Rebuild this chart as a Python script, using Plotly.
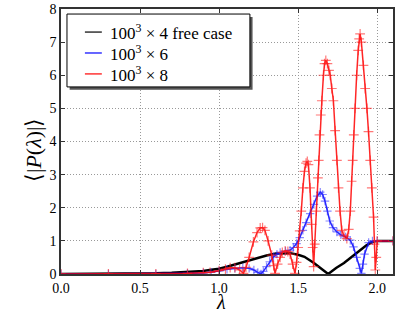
import plotly.graph_objects as go

# ---- data ----
lam_free = [0.0, 0.2, 0.4, 0.5, 0.6, 0.7, 0.8, 0.9, 0.94, 1.0, 1.05, 1.1, 1.15, 1.2, 1.26, 1.3,
            1.36, 1.42, 1.45, 1.5, 1.54, 1.6, 1.65, 1.69, 1.74, 1.79, 1.84, 1.89, 1.93, 1.97, 2.0, 2.1]
p_free = [0.0, 0.0, 0.003, 0.01, 0.02, 0.035, 0.055, 0.09, 0.12, 0.16, 0.22, 0.29, 0.37, 0.44, 0.52, 0.56,
          0.62, 0.64, 0.63, 0.58, 0.52, 0.33, 0.16, 0.0, 0.18, 0.33, 0.52, 0.72, 0.86, 0.97, 1.0, 1.0]

lam_6 = [0.0, 0.3, 0.6, 0.8, 0.9, 0.95, 1.0, 1.05, 1.1, 1.15, 1.19, 1.22, 1.245, 1.265, 1.28, 1.3,
         1.32, 1.344, 1.366, 1.386, 1.42, 1.449, 1.47, 1.49, 1.51, 1.53, 1.55, 1.576, 1.6, 1.62,
         1.64, 1.655, 1.67, 1.685, 1.7, 1.72, 1.745, 1.77, 1.8, 1.83, 1.85, 1.87, 1.89, 1.9, 1.91,
         1.92, 1.946, 1.97, 2.0, 2.1]
p_6 = [0.0, 0.0, 0.005, 0.02, 0.03, 0.05, 0.09, 0.14, 0.17, 0.19, 0.17, 0.12, 0.05, 0.0, 0.08, 0.22,
       0.37, 0.52, 0.6, 0.65, 0.69, 0.72, 0.8, 0.92, 1.1, 1.32, 1.55, 1.82, 2.1, 2.35,
       2.47, 2.4, 2.2, 1.9, 1.6, 1.4, 1.27, 1.18, 1.12, 1.02, 0.82, 0.5, 0.17, 0.02, 0.3,
       0.6, 0.95, 1.0, 1.0, 1.0]

lam_8 = [0.0, 0.3, 0.6, 0.8, 0.9, 0.943, 1.0, 1.04, 1.07, 1.1, 1.13, 1.154, 1.17, 1.19, 1.217, 1.24,
         1.26, 1.275, 1.29, 1.31, 1.333, 1.345, 1.354, 1.37, 1.386, 1.4, 1.418, 1.435, 1.449, 1.465,
         1.48, 1.49, 1.5, 1.51, 1.52, 1.53, 1.54, 1.55, 1.558, 1.565, 1.575, 1.585, 1.592, 1.598,
         1.605, 1.615, 1.625, 1.63, 1.635, 1.643, 1.65, 1.66, 1.667, 1.675, 1.685, 1.695, 1.703,
         1.713, 1.723, 1.734, 1.745, 1.755, 1.765, 1.776, 1.79, 1.808, 1.82, 1.83, 1.838, 1.845,
         1.852, 1.86, 1.87, 1.88, 1.886, 1.892, 1.9, 1.913, 1.924, 1.935, 1.945, 1.956, 1.966,
         1.977, 1.983, 1.988, 1.994, 2.0, 2.1]
p_8 = [0.0, 0.0, 0.005, 0.02, 0.04, 0.05, 0.1, 0.15, 0.19, 0.19, 0.12, 0.02, 0.2, 0.5, 0.97, 1.25,
       1.39, 1.4, 1.32, 1.0, 0.57, 0.25, 0.02, 0.3, 0.5, 0.65, 0.7, 0.68, 0.6, 0.3,
       0.02, 0.35, 0.8, 1.3, 1.9, 2.6, 3.1, 3.35, 3.4, 3.3, 2.6, 1.5, 0.8, 0.22,
       0.9, 1.9, 2.9, 3.43, 4.2, 4.8, 5.23, 6.0, 6.35, 6.45, 6.35, 6.15, 6.0,
       5.6, 5.23, 4.33, 3.43, 2.6, 1.9, 1.32, 1.15, 1.07, 1.35, 1.9, 2.8, 3.43,
       4.2, 5.0, 6.0, 6.75, 7.1, 7.25, 7.0, 6.3, 5.6, 5.0, 4.3, 3.43, 2.6,
       1.72, 0.9, 0.12, 0.5, 1.0, 1.0]

x_ticks = [0.0, 0.5, 1.0, 1.5, 2.0]
x_tick_labels = ["0.0", "0.5", "1.0", "1.5", "2.0"]
y_ticks = [0, 1, 2, 3, 4, 5, 6, 7, 8]
legend_labels = ["100<sup>3</sup> × 4 free case", "100<sup>3</sup> × 6", "100<sup>3</sup> × 8"]
colors = ["black", "blue", "red"]

SERIF = "Liberation Serif"

fig = go.Figure()
fig.add_trace(go.Scatter(x=lam_free, y=p_free, mode="lines", line=dict(color="black", width=2.5),
                         showlegend=False))
fig.add_trace(go.Scatter(x=lam_6, y=p_6, mode="lines+markers",
                         line=dict(color="rgba(0,0,255,0.85)", width=1.5),
                         marker=dict(symbol="cross-thin", size=6,
                                     line=dict(color="rgba(40,40,255,0.55)", width=1.2)),
                         showlegend=False))
fig.add_trace(go.Scatter(x=lam_8, y=p_8, mode="lines+markers",
                         line=dict(color="rgba(255,0,0,0.85)", width=1.5),
                         marker=dict(symbol="cross-thin", size=7,
                                     line=dict(color="rgba(255,30,30,0.6)", width=1.2)),
                         showlegend=False))

# ---- custom legend (box with shadow, short line samples) ----
L, R, T, B = 0.018, 0.569, 0.981, 0.706
fig.add_shape(type="rect", xref="paper", yref="paper", x0=L + 0.008, x1=R + 0.008, y0=B - 0.011, y1=T - 0.011,
              line=dict(width=0), fillcolor="#555555", layer="above")
fig.add_shape(type="rect", xref="paper", yref="paper", x0=L, x1=R, y0=B, y1=T,
              line=dict(color="black", width=1), fillcolor="white", layer="above")
row_y = [0.913, 0.834, 0.755]
for lab, col, yy in zip(legend_labels, colors, row_y):
    fig.add_shape(type="line", xref="paper", yref="paper", x0=0.072, x1=0.123, y0=yy, y1=yy,
                  line=dict(color=col, width=1.2), layer="above")
    fig.add_annotation(xref="paper", yref="paper", x=0.1416, y=yy, text=lab, showarrow=False,
                       xanchor="left", yanchor="middle", font=dict(family=SERIF, size=17, color="black"))

# axis titles as annotations for exact placement
fig.add_annotation(xref="paper", yref="paper", x=(221 - 61) / 332, y=(274 - 302) / 265,
                   text="<i>λ</i>", showarrow=False, xanchor="center", yanchor="middle",
                   font=dict(family=SERIF, size=20, color="black"))
fig.add_annotation(xref="paper", yref="paper", x=(33 - 61) / 332, y=(274 - 150) / 265,
                   text="⟨|<i>P</i>(<i>λ</i>)|⟩", showarrow=False, textangle=-90,
                   xanchor="center", yanchor="middle",
                   font=dict(family=SERIF, size=22, color="black"))

axis_common = dict(showline=True, linecolor="#333333", linewidth=1.5, mirror="ticks",
                   ticks="inside", ticklen=4, tickcolor="#333333", showgrid=True,
                   gridcolor="#999999", griddash="1px,2px", gridwidth=1, zeroline=False,
                   automargin=False,
                   tickfont=dict(family=SERIF, size=14, color="black"))

fig.update_layout(
    template="none",
    width=415, height=313,
    margin=dict(l=61, r=22, t=9, b=39, autoexpand=False),
    plot_bgcolor="white", paper_bgcolor="white",
    font=dict(family=SERIF),
    xaxis=dict(range=[0, 2.1], tickvals=x_ticks, ticktext=x_tick_labels, **axis_common),
    yaxis=dict(range=[0, 8], tickvals=y_ticks, **axis_common),
)

fig.write_html("out.html", config={"displayModeBar": False},
               post_script="document.body.style.margin='0';")
